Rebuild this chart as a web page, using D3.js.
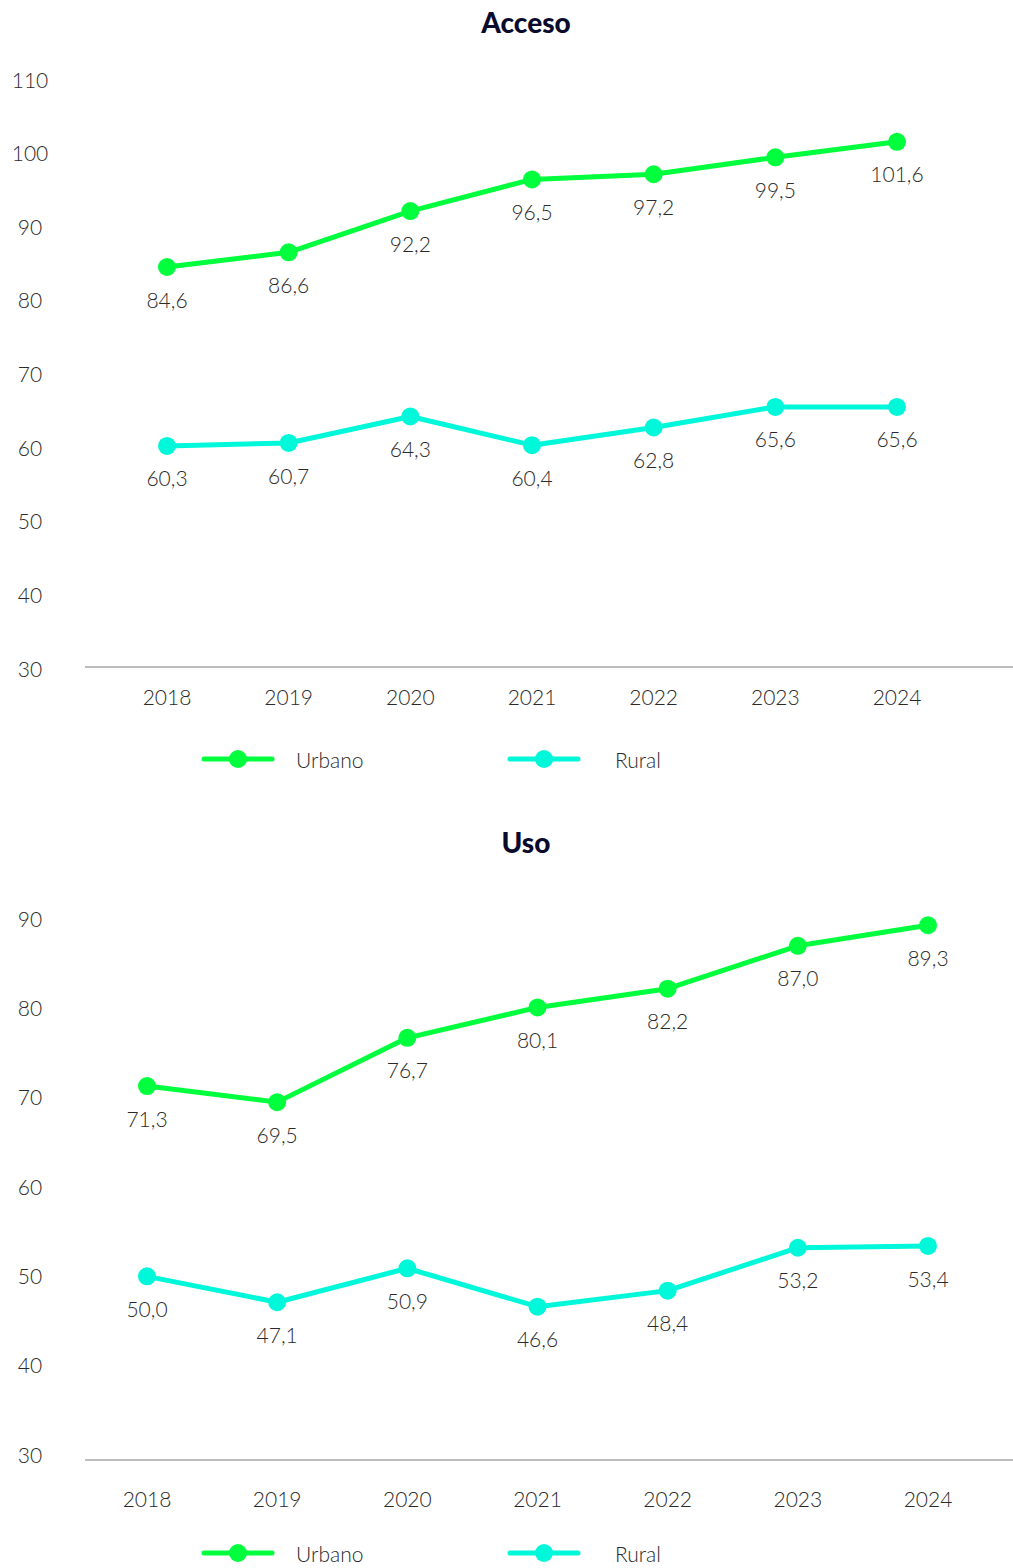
<!DOCTYPE html>
<html>
<head>
<meta charset="utf-8">
<script src="https://cdn.jsdelivr.net/npm/d3@7/dist/d3.min.js"></script>
<style>
  html, body { margin: 0; padding: 0; background: #fff; }
  svg { display: block; }
  text { font-family: Lato, "Open Sans", sans-serif; }
</style>
</head>
<body>
<svg id="chart" width="1013" height="1568"></svg>
<script>
// ---- data ----
const years = ["2018", "2019", "2020", "2021", "2022", "2023", "2024"];
const seriesNames = ["Urbano", "Rural"];
const accesoUrbano = [84.6, 86.6, 92.2, 96.5, 97.2, 99.5, 101.6];
const accesoRural = [60.3, 60.7, 64.3, 60.4, 62.8, 65.6, 65.6];
const usoUrbano = [71.3, 69.5, 76.7, 80.1, 82.2, 87.0, 89.3];
const usoRural = [50.0, 47.1, 50.9, 46.6, 48.4, 53.2, 53.4];
const accesoTicks = [30, 40, 50, 60, 70, 80, 90, 100, 110];
const usoTicks = [30, 40, 50, 60, 70, 80, 90];
const titles = ["Acceso", "Uso"];

// ---- styling ----
const colors = { Urbano: "#00ff3c", Rural: "#00f8da" };
const fmt = v => d3.format(".1f")(v).replace(".", ",");
const svg = d3.select("#chart");
const TXT = "#2a2a2a";

function drawChart(cfg) {
  const g = svg.append("g");
  const x = d3.scalePoint().domain(years).range(cfg.xRange);
  const y = d3.scaleLinear().domain([cfg.ticks[0], cfg.ticks[cfg.ticks.length - 1]]).range(cfg.yRange);

  // title
  g.append("text")
    .attr("x", 526).attr("y", cfg.titleY)
    .attr("text-anchor", "middle").attr("dy", "0.36em")
    .style("font-size", "28px").style("font-weight", 900).style("fill", "#0a0a2c")
    .text(cfg.title);

  // y axis labels
  g.selectAll(".ytick").data(cfg.ticks).enter().append("text")
    .attr("x", 30).attr("y", d => y(d))
    .attr("text-anchor", "middle").attr("dy", "0.36em")
    .style("font-size", "21px").style("font-weight", 300).style("fill", TXT)
    .text(d => d);

  // baseline
  g.append("line")
    .attr("x1", 85).attr("x2", 1013)
    .attr("y1", cfg.baseY).attr("y2", cfg.baseY)
    .attr("stroke", "#bdbdbd").attr("stroke-width", 2);

  // x labels
  g.selectAll(".xtick").data(years).enter().append("text")
    .attr("x", d => x(d)).attr("y", cfg.xLabelY)
    .attr("text-anchor", "middle").attr("dy", "0.36em")
    .style("font-size", "21px").style("font-weight", 300).style("fill", TXT)
    .text(d => d);

  const line = d3.line().x((d, i) => x(years[i])).y(d => y(d));

  cfg.series.forEach((vals, si) => {
    const c = colors[seriesNames[si]];
    g.append("path").datum(vals)
      .attr("d", line).attr("fill", "none")
      .attr("stroke", c).attr("stroke-width", 5)
      .attr("stroke-linejoin", "round");
    g.selectAll(".pt" + si).data(vals).enter().append("circle")
      .attr("cx", (d, i) => x(years[i])).attr("cy", d => y(d))
      .attr("r", 9).attr("fill", c);
    g.selectAll(".lb" + si).data(vals).enter().append("text")
      .attr("x", (d, i) => x(years[i])).attr("y", d => y(d) + 33)
      .attr("text-anchor", "middle").attr("dy", "0.36em")
      .style("font-size", "21px").style("font-weight", 300).style("fill", TXT)
      .text(d => fmt(d));
  });

  // legend
  const legX = [204, 510];
  seriesNames.forEach((name, i) => {
    const c = colors[name];
    const lg = g.append("g").attr("transform", `translate(${legX[i]},${cfg.legendY})`);
    lg.append("line").attr("x1", 0).attr("x2", 68).attr("y1", 0).attr("y2", 0)
      .attr("stroke", c).attr("stroke-width", 5).attr("stroke-linecap", "round");
    lg.append("circle").attr("cx", 34).attr("cy", 0).attr("r", 9).attr("fill", c);
    lg.append("text").attr("x", i === 0 ? 92 : 105).attr("y", 1)
      .attr("dy", "0.36em")
      .style("font-size", "21px").style("font-weight", 300).style("fill", TXT)
      .text(name);
  });
}

drawChart({
  title: titles[0], titleY: 23,
  ticks: accesoTicks, yRange: [669, 80], xRange: [167, 897],
  baseY: 667, xLabelY: 697, legendY: 759,
  series: [accesoUrbano, accesoRural]
});
drawChart({
  title: titles[1], titleY: 843,
  ticks: usoTicks, yRange: [1455, 919], xRange: [147, 928],
  baseY: 1460, xLabelY: 1499, legendY: 1553,
  series: [usoUrbano, usoRural]
});
</script>
</body>
</html>
